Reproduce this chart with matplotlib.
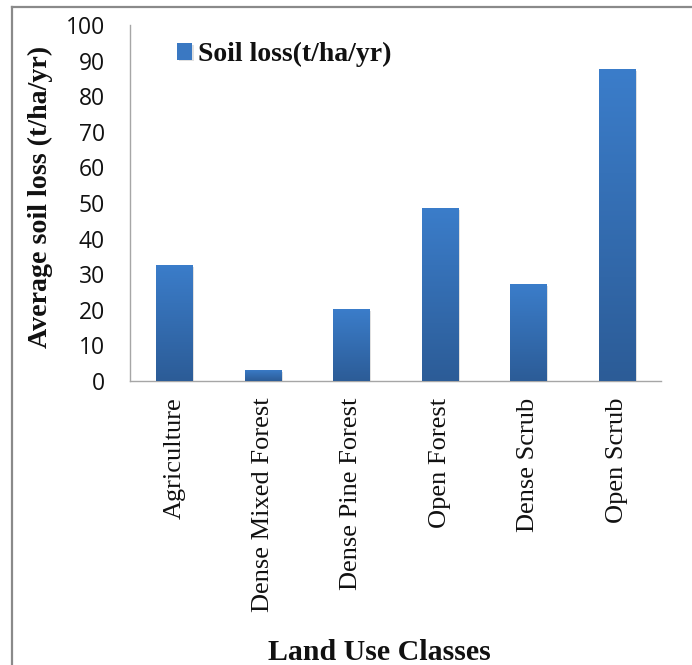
import matplotlib
matplotlib.use("Agg")
import matplotlib.pyplot as plt
import numpy as np
from matplotlib.colors import LinearSegmentedColormap
from matplotlib.lines import Line2D
from matplotlib import patheffects

# Average soil loss per land use class
categories = ["Agriculture", "Dense Mixed Forest", "Dense Pine Forest",
              "Open Forest", "Dense Scrub", "Open Scrub"]
soil_loss = [32.6, 3.1, 20.2, 48.6, 27.2, 87.6]
y_ticks = [0, 10, 20, 30, 40, 50, 60, 70, 80, 90, 100]
series_name = "Soil loss(t/ha/yr)"

W, H = 692, 665
fig = plt.figure(figsize=(W / 100, H / 100), dpi=100)
fig.patch.set_facecolor("white")

ax = fig.add_axes([130 / W, 1 - 381 / H, (661 - 130) / W, (381 - 25) / H])

x = np.arange(len(categories))
bar_w = 0.41
bars = ax.bar(x, soil_loss, width=bar_w, color="#3a78c2", edgecolor="none",
              zorder=2, label=series_name)

# vertical gradient inside each bar: lighter at top, darker at bottom
grad_cmap = LinearSegmentedColormap.from_list("bar_grad", ["#2c5c97", "#3b7dca"])
grad = np.linspace(0, 1, 256).reshape(-1, 1)
for b in bars:
    x0, w, h = b.get_x(), b.get_width(), b.get_height()
    b.set_path_effects([patheffects.SimplePatchShadow(offset=(1.2, -1.2),
                                                      shadow_rgbFace="#000000",
                                                      alpha=0.12),
                        patheffects.Normal()])
    im = ax.imshow(grad, extent=[x0, x0 + w, 0, h], origin="lower",
                   cmap=grad_cmap, aspect="auto", zorder=3,
                   interpolation="bicubic")
    im.set_clip_path(b)

ax.set_xlim(-0.5, len(categories) - 0.5)
ax.set_ylim(0, 100)
ax.set_yticks(y_ticks)
ax.set_yticklabels([str(v) for v in y_ticks], fontfamily="Open Sans",
                   fontsize=16.5, color="#111111")
ax.set_xticks(x)
ax.set_xticklabels(categories, rotation=90, fontfamily="Liberation Serif",
                   fontsize=19, color="#111111", va="top", ha="center")
ax.tick_params(axis="y", length=0, pad=18)
ax.tick_params(axis="x", length=0, pad=12)

for side in ("top", "right"):
    ax.spines[side].set_visible(False)
for side in ("left", "bottom"):
    ax.spines[side].set_color("#a6a6a6")
    ax.spines[side].set_linewidth(1.0)

leg = ax.legend(loc="upper left", bbox_to_anchor=((177 - 130) / (661 - 130), 1 - (42 - 25) / (381 - 25)),
                frameon=False, handlelength=0.55, handleheight=0.55,
                handletextpad=0.2, borderaxespad=0, borderpad=0,
                prop={"family": "Liberation Serif", "weight": "bold", "size": 20})
for t in leg.get_texts():
    t.set_color("#111111")

fig.text(40 / W, 1 - 197 / H, "Average soil loss (t/ha/yr)", rotation=90,
         ha="center", va="center", fontfamily="Liberation Serif",
         fontweight="bold", fontsize=20.2, color="#111111")
fig.text(379 / W, 1 - 660 / H, "Land Use Classes", ha="center", va="baseline",
         fontfamily="Liberation Serif", fontweight="bold", fontsize=21.5,
         color="#111111")

# outer frame (top and left edges)
fig.add_artist(Line2D([12 / W, 1.0], [1 - 7 / H, 1 - 7 / H],
                      transform=fig.transFigure, color="#8a8a8a", lw=1.6))
fig.add_artist(Line2D([12 / W, 12 / W], [0.0, 1 - 7 / H],
                      transform=fig.transFigure, color="#8a8a8a", lw=1.6))

fig.savefig("out.png", dpi=100, facecolor="white")
